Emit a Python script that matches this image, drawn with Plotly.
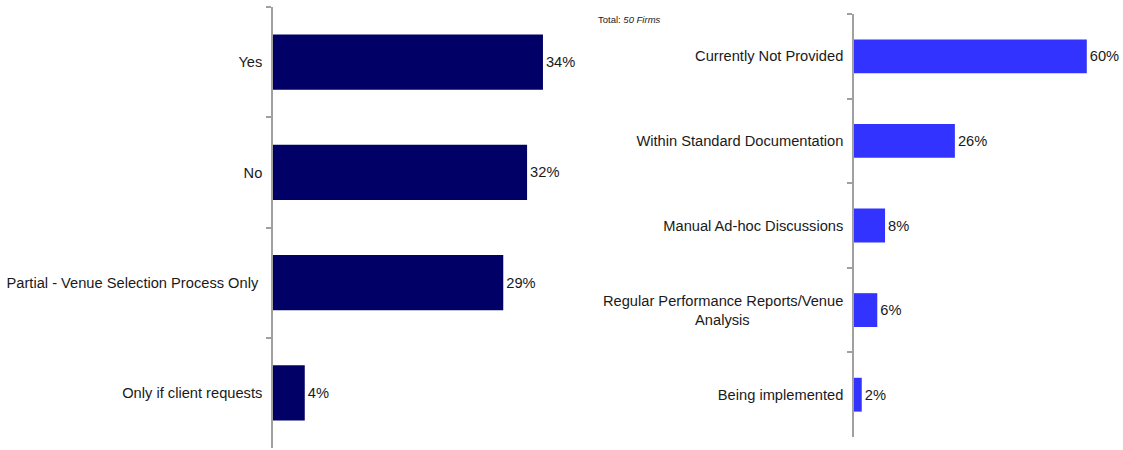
import plotly.graph_objects as go

# Left panel: disclosure of routing practices
left_categories = ["Yes", "No", "Partial - Venue Selection Process Only ", "Only if client requests"]
left_values = [34, 32, 29, 4]

# Right panel: how venue information is provided
right_categories = [
    "Currently Not Provided",
    "Within Standard Documentation",
    "Manual Ad-hoc Discussions",
    "Regular Performance Reports/Venue<br>Analysis" + "\u00a0" * 23,
    "Being implemented",
]
right_values = [60, 26, 8, 6, 2]

note_text = "Total: <i>50 Firms</i>"

W, H = 1123, 450
FONT = "Liberation Sans, Arial, sans-serif"
TXT = "#1a1a1a"
AXIS = "#a0a0a0"


def px_x(a, b):
    return [a / W, b / W]


def px_y(top, bottom):
    return [(H - bottom) / H, (H - top) / H]


fig = go.Figure()

fig.add_trace(go.Bar(
    x=left_values, y=left_categories, orientation="h",
    marker=dict(color="#000066", line=dict(width=0)),
    width=0.5,
    text=[f"{v}%" for v in left_values], textposition="outside",
    textfont=dict(family=FONT, size=14.67, color=TXT),
    cliponaxis=False, xaxis="x", yaxis="y",
))

fig.add_trace(go.Bar(
    x=right_values, y=right_categories, orientation="h",
    marker=dict(color="#3333FF", line=dict(width=0)),
    width=0.4,
    text=[f"{v}%" for v in right_values], textposition="outside",
    textfont=dict(family=FONT, size=14.67, color=TXT),
    cliponaxis=False, xaxis="x2", yaxis="y2",
))

cat_axis = dict(
    type="category", showline=True, linecolor=AXIS, linewidth=1.5,
    ticks="outside", ticklen=5, tickcolor=AXIS, tickwidth=1.5,
    tickson="boundaries", showgrid=False, zeroline=False,
    tickfont=dict(family=FONT, size=14.67, color=TXT),
    ticklabelstandoff=6,
)
val_axis = dict(visible=False, showgrid=False, zeroline=False, fixedrange=True)

fig.update_layout(
    width=W, height=H,
    margin=dict(l=0, r=0, t=0, b=0),
    paper_bgcolor="white", plot_bgcolor="white",
    showlegend=False,
    font=dict(family=FONT, color=TXT),
    xaxis=dict(val_axis, domain=px_x(273, 591), range=[0, 318 / 7.94], anchor="y"),
    yaxis=dict(cat_axis, domain=px_y(7, 448), range=[3.5, -0.5], anchor="x"),
    xaxis2=dict(val_axis, domain=px_x(854, 1121), range=[0, 267 / 3.88], anchor="y2"),
    yaxis2=dict(cat_axis, domain=px_y(14, 437), range=[4.5, -0.5], anchor="x2"),
    annotations=[dict(
        text=note_text, xref="paper", yref="paper",
        x=596 / W, y=(H - 20) / H, xanchor="left", yanchor="middle",
        showarrow=False, font=dict(family=FONT, size=9.5, color=TXT),
    )],
)

fig.write_html("out.html")
